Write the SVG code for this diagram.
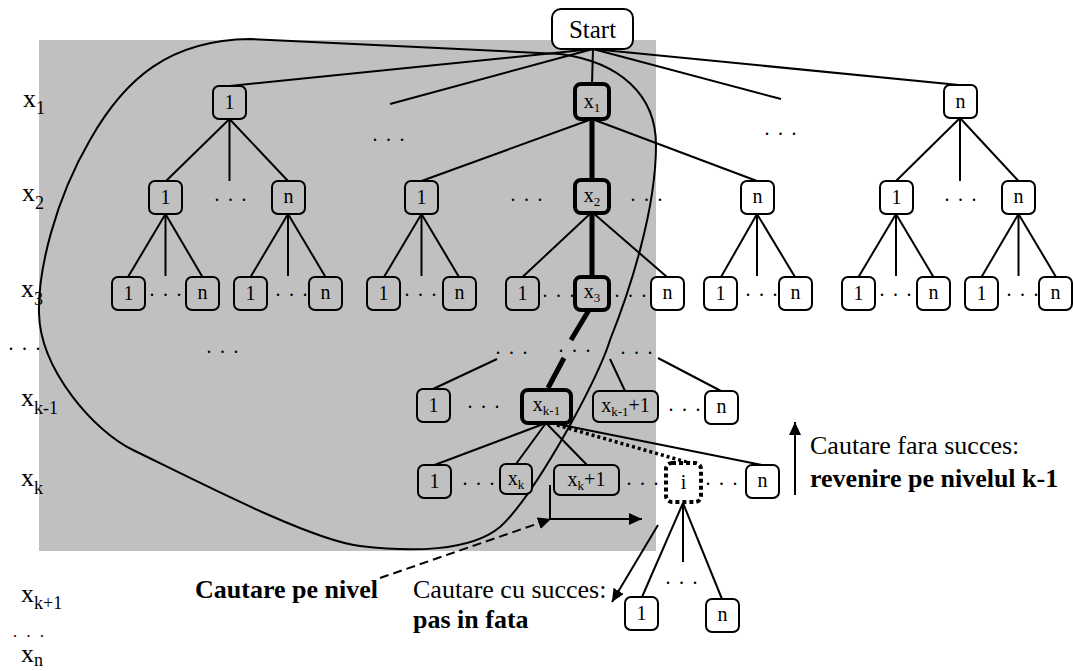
<svg xmlns="http://www.w3.org/2000/svg" width="1073" height="671" viewBox="0 0 1073 671">
<defs>
<style>
.e{stroke:#000;stroke-width:2;fill:none}
.th{stroke:#000;stroke-width:5;fill:none}
.g{fill:#c0c0c0;stroke:#000;stroke-width:2}
.w{fill:#fff;stroke:#000;stroke-width:2}
.gb{fill:#c0c0c0;stroke:#000;stroke-width:4}
.t{font-family:"Liberation Serif",serif;font-size:20px;text-anchor:middle;fill:#000}
.d{font-family:"Liberation Serif",serif;font-size:20px;letter-spacing:8.5px;fill:#000}
.ds{font-family:"Liberation Serif",serif;font-size:12px;letter-spacing:10.5px;fill:#000;font-weight:bold}
.lab{font-family:"Liberation Serif",serif;font-size:26px;fill:#000}
.lv{font-family:"Liberation Serif",serif;font-size:26px;fill:#000}
.b{font-weight:bold}
</style>
<marker id="ah" markerUnits="userSpaceOnUse" markerWidth="14" markerHeight="12" refX="13" refY="6" orient="auto">
<path d="M0,0 L13,6 L0,12 z" fill="#000"/>
</marker>
</defs>

<rect x="39" y="40" width="617" height="511" fill="#c0c0c0"/>

<g id="connectors">
<line class="e" x1="593" y1="49" x2="230" y2="86"/>
<line class="e" x1="593" y1="49" x2="390" y2="104"/>
<line class="e" x1="593" y1="49" x2="592" y2="84"/>
<line class="e" x1="593" y1="49" x2="781" y2="99"/>
<line class="e" x1="593" y1="49" x2="959" y2="85"/>
<line class="e" x1="229.5" y1="119" x2="166" y2="181"/>
<line class="e" x1="229.5" y1="119" x2="229.5" y2="181"/>
<line class="e" x1="229.5" y1="119" x2="288" y2="181"/>
<line class="e" x1="592" y1="119" x2="421.5" y2="181"/>
<line class="th" x1="592" y1="119" x2="592" y2="180"/>
<line class="e" x1="592" y1="119" x2="757" y2="181"/>
<line class="e" x1="960" y1="118" x2="896" y2="181"/>
<line class="e" x1="960" y1="118" x2="960" y2="181"/>
<line class="e" x1="960" y1="118" x2="1018.5" y2="181"/>
<line class="e" x1="165.5" y1="214" x2="128" y2="277"/>
<line class="e" x1="165.5" y1="214" x2="165.5" y2="276"/>
<line class="e" x1="165.5" y1="214" x2="202.5" y2="277"/>
<line class="e" x1="288" y1="214" x2="250.5" y2="277"/>
<line class="e" x1="288" y1="214" x2="288" y2="276"/>
<line class="e" x1="288" y1="214" x2="325.5" y2="277"/>
<line class="e" x1="421.5" y1="214" x2="384" y2="277"/>
<line class="e" x1="421.5" y1="214" x2="421.5" y2="276"/>
<line class="e" x1="421.5" y1="214" x2="459" y2="277"/>
<line class="e" x1="592" y1="212" x2="522.5" y2="277"/>
<line class="th" x1="592" y1="212" x2="592" y2="277"/>
<line class="e" x1="592" y1="212" x2="667" y2="277"/>
<line class="e" x1="757" y1="214" x2="721" y2="277"/>
<line class="e" x1="757" y1="214" x2="757" y2="276"/>
<line class="e" x1="757" y1="214" x2="795" y2="277"/>
<line class="e" x1="896" y1="214" x2="858.5" y2="277"/>
<line class="e" x1="896" y1="214" x2="896" y2="276"/>
<line class="e" x1="896" y1="214" x2="933.5" y2="277"/>
<line class="e" x1="1018.5" y1="214" x2="981.5" y2="277"/>
<line class="e" x1="1018.5" y1="214" x2="1018.5" y2="276"/>
<line class="e" x1="1018.5" y1="214" x2="1056" y2="277"/>
<line class="th" x1="589" y1="310" x2="571" y2="340"/>
<line class="th" x1="564" y1="358" x2="548" y2="388"/>
<line class="e" x1="433" y1="389" x2="497" y2="359"/>
<line class="e" x1="625" y1="391" x2="610" y2="359"/>
<line class="e" x1="658" y1="358" x2="721" y2="391"/>
<line class="e" x1="546" y1="423" x2="434.5" y2="465"/>
<line class="e" x1="546" y1="423" x2="516" y2="464"/>
<line class="e" x1="546" y1="423" x2="587" y2="465"/>
<line class="e" x1="552" y1="423" x2="762" y2="465"/>
<line stroke="#000" stroke-width="3.5" stroke-dasharray="3,3" x1="557" y1="425" x2="690" y2="463"/>
<line class="e" x1="683" y1="503" x2="642" y2="597"/>
<line class="e" x1="683" y1="503" x2="683" y2="562"/>
<line class="e" x1="683" y1="503" x2="722" y2="599"/>
<path class="e" d="M550,485 V519 H642" marker-end="url(#ah)"/>
<line class="e" x1="380" y1="578" x2="551" y2="519" stroke-dasharray="9,5" marker-end="url(#ah)"/>
<line class="e" x1="658" y1="525" x2="612" y2="602" marker-end="url(#ah)"/>
<line class="e" x1="795" y1="495" x2="795" y2="422" marker-end="url(#ah)"/>
</g>

<path id="region" class="e" d="M39,313 C38,270 55,200 90,140 C125,78 170,40 250,39 C320,42 470,50 560,54 C620,62 656,95 656,145 C656,210 630,290 610,340 C598,380 535,495 500,527 C470,552 410,552 360,546 C310,540 195,480 133,450 C95,432 40,370 39,313 Z"/>

<g id="start"><rect class="w" x="552" y="9" width="81" height="40" rx="9"/><text class="t" x="592.5" y="38" style="font-size:25px">Start</text></g>

<g id="n1_1"><rect class="g" x="213" y="86" width="33" height="33" rx="6"/><text class="t" x="229.5" y="109">1</text></g>
<g id="n1_x1"><rect class="gb" x="575" y="84" width="34" height="35" rx="6"/><text class="t" x="592" y="108">x<tspan font-size="13" dy="4">1</tspan></text></g>
<g id="n1_n"><rect class="w" x="944" y="85" width="33" height="33" rx="6"/><text class="t" x="960.5" y="108">n</text></g>

<g id="n2_a1"><rect class="g" x="149" y="181" width="33" height="33" rx="6"/><text class="t" x="165.5" y="204">1</text></g>
<g id="n2_an"><rect class="g" x="272" y="181" width="33" height="33" rx="6"/><text class="t" x="288.5" y="203">n</text></g>
<g id="n2_b1"><rect class="g" x="405" y="181" width="33" height="33" rx="6"/><text class="t" x="421.5" y="204">1</text></g>
<g id="n2_x2"><rect class="gb" x="575" y="180" width="34" height="33" rx="6"/><text class="t" x="592" y="202">x<tspan font-size="13" dy="4">2</tspan></text></g>
<g id="n2_bn"><rect class="w" x="741" y="181" width="33" height="33" rx="6"/><text class="t" x="757.5" y="203">n</text></g>
<g id="n2_c1"><rect class="w" x="880" y="181" width="33" height="33" rx="6"/><text class="t" x="896.5" y="204">1</text></g>
<g id="n2_cn"><rect class="w" x="1002" y="181" width="33" height="33" rx="6"/><text class="t" x="1018.5" y="203">n</text></g>

<g id="n3_1"><rect class="g" x="112" y="277" width="33" height="33" rx="6"/><text class="t" x="128.5" y="300">1</text></g>
<g id="n3_2"><rect class="g" x="186" y="277" width="33" height="33" rx="6"/><text class="t" x="202.5" y="299">n</text></g>
<g id="n3_3"><rect class="g" x="234" y="277" width="33" height="33" rx="6"/><text class="t" x="250.5" y="300">1</text></g>
<g id="n3_4"><rect class="g" x="309" y="277" width="33" height="33" rx="6"/><text class="t" x="325.5" y="299">n</text></g>
<g id="n3_5"><rect class="g" x="367" y="277" width="33" height="33" rx="6"/><text class="t" x="383.5" y="300">1</text></g>
<g id="n3_6"><rect class="g" x="443" y="277" width="33" height="33" rx="6"/><text class="t" x="459.5" y="299">n</text></g>
<g id="n3_7"><rect class="g" x="506" y="277" width="33" height="33" rx="6"/><text class="t" x="522.5" y="300">1</text></g>
<g id="n3_x3"><rect class="gb" x="575" y="277" width="34" height="33" rx="6"/><text class="t" x="592" y="298">x<tspan font-size="13" dy="4">3</tspan></text></g>
<g id="n3_8"><rect class="w" x="651" y="277" width="33" height="33" rx="6"/><text class="t" x="667.5" y="299">n</text></g>
<g id="n3_9"><rect class="w" x="704" y="277" width="33" height="33" rx="6"/><text class="t" x="720.5" y="300">1</text></g>
<g id="n3_10"><rect class="w" x="779" y="277" width="33" height="33" rx="6"/><text class="t" x="795.5" y="299">n</text></g>
<g id="n3_11"><rect class="w" x="842" y="277" width="33" height="33" rx="6"/><text class="t" x="858.5" y="300">1</text></g>
<g id="n3_12"><rect class="w" x="917" y="277" width="33" height="33" rx="6"/><text class="t" x="933.5" y="299">n</text></g>
<g id="n3_13"><rect class="w" x="965" y="277" width="33" height="33" rx="6"/><text class="t" x="981.5" y="300">1</text></g>
<g id="n3_14"><rect class="w" x="1039" y="277" width="33" height="33" rx="6"/><text class="t" x="1055.5" y="299">n</text></g>

<g id="nk1_1"><rect class="g" x="417" y="389" width="33" height="33" rx="6"/><text class="t" x="433.5" y="412">1</text></g>
<g id="nk1_x"><rect class="gb" x="522" y="390" width="49" height="33" rx="6"/><text class="t" x="546.5" y="411">x<tspan font-size="13" dy="4">k-1</tspan></text></g>
<g id="nk1_xp"><rect class="g" x="593" y="391" width="65" height="31" rx="6"/><text class="t" x="625.5" y="412">x<tspan font-size="13" dy="4">k-1</tspan><tspan dy="-4">+1</tspan></text></g>
<g id="nk1_n"><rect class="w" x="705" y="391" width="33" height="33" rx="6"/><text class="t" x="721.5" y="413">n</text></g>

<g id="nk_1"><rect class="g" x="418" y="465" width="33" height="33" rx="6"/><text class="t" x="434.5" y="488">1</text></g>
<g id="nk_x"><rect class="g" x="500" y="464" width="32" height="30" rx="6"/><text class="t" x="516" y="485">x<tspan font-size="13" dy="4">k</tspan></text></g>
<g id="nk_xp"><rect class="g" x="554" y="465" width="65" height="30" rx="6"/><text class="t" x="586.5" y="486">x<tspan font-size="13" dy="4">k</tspan><tspan dy="-4">+1</tspan></text></g>
<g id="nk_i"><rect x="666" y="463" width="35" height="39" rx="6" fill="#fff" stroke="#000" stroke-width="4" stroke-dasharray="4,3"/><text class="t" x="683.5" y="489">i</text></g>
<g id="nk_n"><rect class="w" x="746" y="465" width="33" height="33" rx="6"/><text class="t" x="762.5" y="487">n</text></g>

<g id="nkk_1"><rect class="w" x="625" y="597" width="33" height="33" rx="6"/><text class="t" x="641.5" y="620">1</text></g>
<g id="nkk_n"><rect class="w" x="706" y="599" width="33" height="33" rx="6"/><text class="t" x="722.5" y="621">n</text></g>

<g id="dots">
<text class="d" x="372.5" y="140.5">...</text>
<text class="d" x="764.5" y="134.5">...</text>
<text class="d" x="214.5" y="200.5">...</text>
<text class="d" x="510.5" y="200.5">...</text>
<text class="d" x="630.5" y="200.5">...</text>
<text class="d" x="944.5" y="200.5">...</text>
<text class="d" x="149.5" y="295.5">...</text>
<text class="d" x="275.5" y="295.5">...</text>
<text class="d" x="404.5" y="295.5">...</text>
<text class="d" x="542.5" y="297">...</text>
<text class="d" x="614.5" y="297">...</text>
<text class="d" x="745.5" y="295.5">...</text>
<text class="d" x="879.5" y="295.5">...</text>
<text class="d" x="1006.5" y="295.5">...</text>
<text class="d" x="8.5" y="349.5">...</text>
<text class="d" x="206.5" y="352.5">...</text>
<text class="d" x="495.5" y="353.5">...</text>
<text class="d" x="558.5" y="351.5">...</text>
<text class="d" x="620.5" y="353.5">...</text>
<text class="d" x="467.5" y="407.5">...</text>
<text class="d" x="668.5" y="410.5">...</text>
<text class="d" x="462.5" y="484.5">...</text>
<text class="d" x="626.5" y="484.5">...</text>
<text class="d" x="705.5" y="484.5">...</text>
<text class="d" x="665.5" y="583.5">...</text>
<text class="ds" x="13.5" y="636.5">...</text>
</g>

<g id="levels">
<text class="lv" x="23" y="107">x<tspan font-size="18" dy="7">1</tspan></text>
<text class="lv" x="22" y="201">x<tspan font-size="18" dy="8">2</tspan></text>
<text class="lv" x="21" y="297">x<tspan font-size="18" dy="8">3</tspan></text>
<text class="lv" x="21" y="406">x<tspan font-size="18" dy="8">k-1</tspan></text>
<text class="lv" x="21" y="486">x<tspan font-size="18" dy="8">k</tspan></text>
<text class="lv" x="21" y="602">x<tspan font-size="18" dy="7">k+1</tspan></text>
<text class="lv" x="21" y="662">x<tspan font-size="18" dy="4">n</tspan></text>
</g>

<g id="labels">
<text class="lab" x="810" y="454">Cautare fara succes:</text>
<text class="lab b" x="810" y="487">revenire pe nivelul k-1</text>
<text class="lab b" x="378" y="598" text-anchor="end">Cautare pe nivel</text>
<text class="lab" x="413" y="598">Cautare cu succes:</text>
<text class="lab b" x="413" y="628">pas in fata</text>
</g>
</svg>
